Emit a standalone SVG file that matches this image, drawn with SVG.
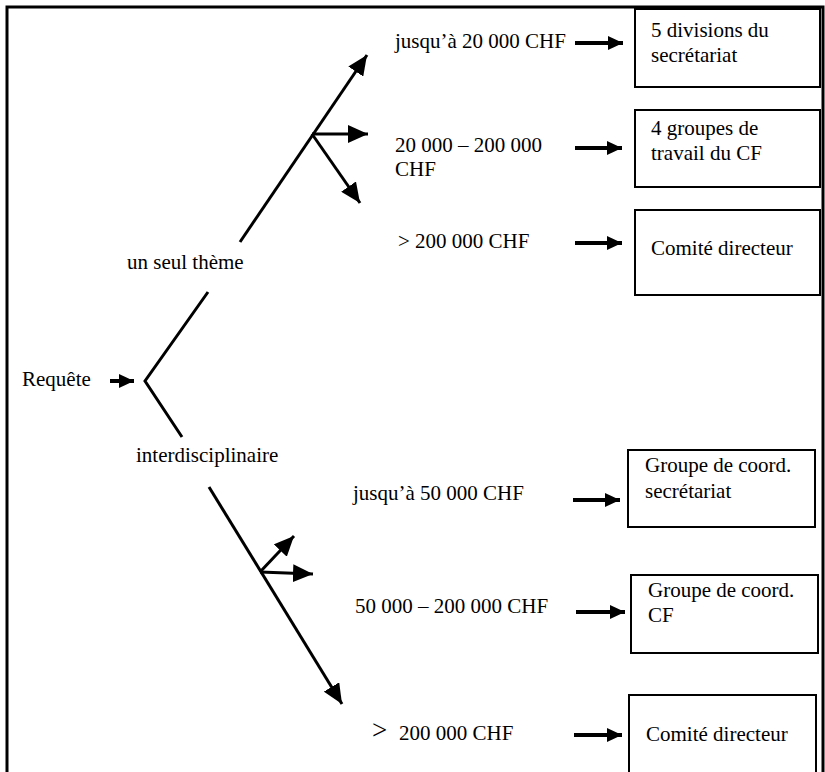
<svg xmlns="http://www.w3.org/2000/svg" width="825" height="772" viewBox="0 0 825 772">
<defs>
<style>
text{font-family:"Liberation Serif","Times New Roman",serif;font-size:21px;fill:#000}
.ln{stroke:#000;stroke-width:3;fill:none}
.sh{stroke:#000;stroke-width:4;fill:none}
.box{fill:#fff;stroke:#000;stroke-width:2}
</style>
<marker id="big" markerUnits="userSpaceOnUse" markerWidth="22" markerHeight="18" refX="20" refY="9" orient="auto"><path d="M0,0 L20,9 L0,18 z" fill="#000"/></marker>
<marker id="sm" markerUnits="userSpaceOnUse" markerWidth="16" markerHeight="14" refX="15" refY="7" orient="auto"><path d="M0,0 L15,7 L0,14 z" fill="#000"/></marker>
</defs>
<rect width="825" height="772" fill="#fff"/>
<path d="M7,772 V7 H823 V772" fill="none" stroke="#000" stroke-width="3"/>
<g id="connectors">
<line class="sh" x1="110" y1="381" x2="134" y2="381" marker-end="url(#sm)"/>
<polyline class="ln" points="208,292 145,381 182,437"/>
<line class="ln" x1="240" y1="242" x2="367" y2="55" marker-end="url(#big)"/>
<line class="ln" x1="312" y1="134" x2="368" y2="134" marker-end="url(#big)"/>
<line class="ln" x1="312" y1="134" x2="360" y2="203" marker-end="url(#big)"/>
<line class="ln" x1="209" y1="487" x2="342" y2="704" marker-end="url(#big)"/>
<line class="ln" x1="260" y1="572" x2="294" y2="536" marker-end="url(#big)"/>
<line class="ln" x1="260" y1="572" x2="313" y2="574" marker-end="url(#big)"/>
<line class="sh" x1="575" y1="43" x2="623" y2="43" marker-end="url(#sm)"/>
<line class="sh" x1="575" y1="148" x2="622" y2="148" marker-end="url(#sm)"/>
<line class="sh" x1="575" y1="243" x2="622" y2="243" marker-end="url(#sm)"/>
<line class="sh" x1="573" y1="500" x2="620" y2="500" marker-end="url(#sm)"/>
<line class="sh" x1="576" y1="612" x2="625" y2="612" marker-end="url(#sm)"/>
<line class="sh" x1="574" y1="735" x2="622" y2="735" marker-end="url(#sm)"/>
</g>
<g id="labels">
<text x="22" y="386">Requête</text>
<text x="127" y="269">un seul thème</text>
<text x="136" y="462">interdisciplinaire</text>
<text x="395" y="48">jusqu’à 20 000 CHF</text>
<text x="395" y="152">20 000 – 200 000</text>
<text x="395" y="176">CHF</text>
<text x="398" y="248">&gt; 200 000 CHF</text>
<text x="353" y="500">jusqu’à 50 000 CHF</text>
<text x="355" y="613">50 000 – 200 000 CHF</text>
<text x="372" y="739" style="font-size:27px">&gt;</text>
<text x="399" y="740">200 000 CHF</text>
</g>
<g id="n1"><rect class="box" x="635" y="9" width="185" height="78"/><text x="651" y="37">5 divisions du</text><text x="651" y="62">secrétariat</text></g>
<g id="n2"><rect class="box" x="635" y="110" width="185" height="77"/><text x="651" y="135">4 groupes de</text><text x="651" y="160">travail du CF</text></g>
<g id="n3"><rect class="box" x="635" y="210" width="185" height="85"/><text x="651" y="255">Comité directeur</text></g>
<g id="n4"><rect class="box" x="628" y="450" width="187" height="77"/><text x="645" y="472">Groupe de coord.</text><text x="645" y="498">secrétariat</text></g>
<g id="n5"><rect class="box" x="631" y="575" width="187" height="78"/><text x="648" y="597">Groupe de coord.</text><text x="648" y="622">CF</text></g>
<g id="n6"><rect class="box" x="629" y="695" width="187" height="80"/><text x="646" y="741">Comité directeur</text></g>
</svg>
